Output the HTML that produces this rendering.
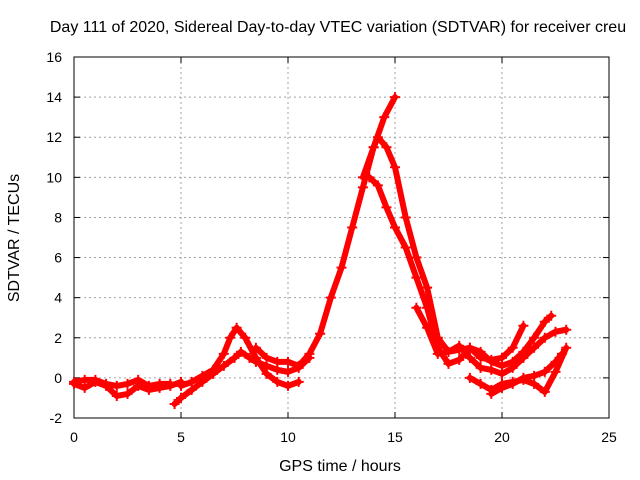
<!DOCTYPE html>
<html><head><meta charset="utf-8"><style>
body{margin:0;background:#fff}
svg{display:block;font-family:"Liberation Sans",sans-serif}
</style></head><body>
<svg id="chart" width="640" height="480">
<rect width="640" height="480" fill="#fff"/>
<text x="338" y="32" text-anchor="middle" font-size="16">Day 111 of 2020, Sidereal Day-to-day VTEC variation (SDTVAR) for receiver creu</text>
<g id="grid"></g>
<g id="axes"></g>
<g id="series"></g>
<text x="340" y="471" text-anchor="middle" font-size="16">GPS time / hours</text>
<text transform="translate(19,238) rotate(-90)" text-anchor="middle" font-size="16">SDTVAR / TECUs</text>
</svg>
<script>
const xTicks=[0,5,10,15,20,25];
const yTicks=[-2,0,2,4,6,8,10,12,14,16];
const s1x=[0,0.5,1,1.5,2,2.5,3,3.5,4,4.5,5];
const s1y=[-0.3,-0.5,-0.2,-0.4,-0.9,-0.8,-0.4,-0.6,-0.5,-0.4,-0.2];
const s2x=[0,0.5,1,1.5,2,2.5,3,3.5,4,4.5];
const s2y=[-0.2,-0.1,-0.1,-0.3,-0.4,-0.3,-0.1,-0.4,-0.3,-0.3];
const s3x=[4.7,5,5.5,6,6.5,7,7.5,7.8,8.2,8.5,9,9.5,10,10.5,11];
const s3y=[-1.3,-1,-0.6,-0.2,0.2,0.6,1.0,1.3,1.0,0.8,0.6,0.4,0.3,0.5,1];
const s4x=[5,5.5,6,6.5,7,7.3,7.6,8,8.5,9,9.5,10,10.5];
const s4y=[-0.4,-0.2,0.1,0.4,1.2,2,2.5,2.0,1.0,0.2,-0.2,-0.4,-0.2];
const s5x=[8.5,9,9.5,10,10.5,11,11.5,12,12.5,13,13.5,14,14.5,15];
const s5y=[1.5,1,0.8,0.8,0.6,1.2,2.2,4,5.5,7.5,9.5,11.5,13,14];
const s6x=[13.5,14,14.2,14.6,15,15.5,16,16.5,17,17.5,18,18.5,19,19.5,20,20.5,21];
const s6y=[10,11.5,12,11.5,10.5,8,6,4.5,2,1.3,1.4,1.5,1.0,0.9,1.0,1.5,2.6];
const s7x=[13.8,14.2,14.6,15,15.5,16,16.5,17,17.5,18,18.5,19,19.5,20,20.5,21,21.5,22,22.3];
const s7y=[10,9.6,8.5,7.5,6.5,5,3.5,1.5,0.7,0.9,1.5,1.3,0.8,0.6,0.8,1.3,2,2.8,3.1];
const s8x=[16,16.5,17,17.5,18,18.5,19,19.5,20,20.5,21,21.5,22,22.5,23];
const s8y=[3.5,2.5,1.2,1.3,1.6,1.0,0.5,0.4,0.2,0.5,1.0,1.5,2,2.3,2.4];
const s9x=[18.5,19,19.5,20,20.5,21,21.5,22,22.5,23];
const s9y=[0,-0.3,-0.6,-0.3,-0.2,-0.1,-0.3,-0.7,0.3,1.5];
const s10x=[19.5,20,20.5,21,21.5,22,22.5,22.8];
const s10y=[-0.8,-0.5,-0.3,0,0.1,0.3,0.8,1.2];
const seriesX=[s1x,s2x,s3x,s4x,s5x,s6x,s7x,s8x,s9x,s10x];
const seriesY=[s1y,s2y,s3y,s4y,s5y,s6y,s7y,s8y,s9y,s10y];

const L=74,R=609,T=57,B=418;
const X=v=>L+(v-0)/(25-0)*(R-L);
const Y=v=>B-(v+2)/(18)*(B-T);
const NS="http://www.w3.org/2000/svg";
function mk(tag,attrs,parent){const e=document.createElementNS(NS,tag);for(const k in attrs)e.setAttribute(k,attrs[k]);parent.appendChild(e);return e;}
const grid=document.getElementById('grid'),axes=document.getElementById('axes'),ser=document.getElementById('series');
xTicks.forEach(t=>{
  const x=X(t);
  if(t>0&&t<25){const g=mk('line',{x1:x,x2:x,y1:T,y2:B,stroke:'#a0a0a0','stroke-dasharray':'2,3','stroke-width':1},grid);
  }
  mk('line',{x1:x,x2:x,y1:B,y2:B-6,stroke:'#000'},axes);
  mk('line',{x1:x,x2:x,y1:T,y2:T+6,stroke:'#000'},axes);
  const tx=mk('text',{x:x,y:B+24,'text-anchor':'middle','font-size':14},axes);tx.textContent=t;
  
});
yTicks.forEach(t=>{
  const y=Y(t);
  if(t>-2&&t<16){const g=mk('line',{x1:L,x2:R,y1:y,y2:y,stroke:'#a0a0a0','stroke-dasharray':'2,3','stroke-width':1},grid);
  }
  mk('line',{x1:L,x2:L+6,y1:y,y2:y,stroke:'#000'},axes);
  mk('line',{x1:R,x2:R-6,y1:y,y2:y,stroke:'#000'},axes);
  const tx=mk('text',{x:L-12,y:y+5,'text-anchor':'end','font-size':14},axes);tx.textContent=t;
  
});
const fr=mk('rect',{x:L,y:T,width:R-L,height:B-T,fill:'none',stroke:'#000'},axes);

seriesX.forEach((xs,i)=>{
  const ys=seriesY[i];
  const pts=xs.map((x,j)=>X(x)+','+Y(ys[j])).join(' ');
  const pl=mk('polyline',{points:pts,fill:'none',stroke:'#ff0000','stroke-width':6,'stroke-linejoin':'round','stroke-linecap':'round'},ser);
  
  
  xs.forEach((x,j)=>{
    const cx=X(x),cy=Y(ys[j]);
    const p=mk('path',{d:`M${cx-5},${cy}H${cx+5}M${cx},${cy-5}V${cy+5}`,stroke:'#ff0000','stroke-width':2},ser);
    
    
  });
});
</script>
</body></html>
